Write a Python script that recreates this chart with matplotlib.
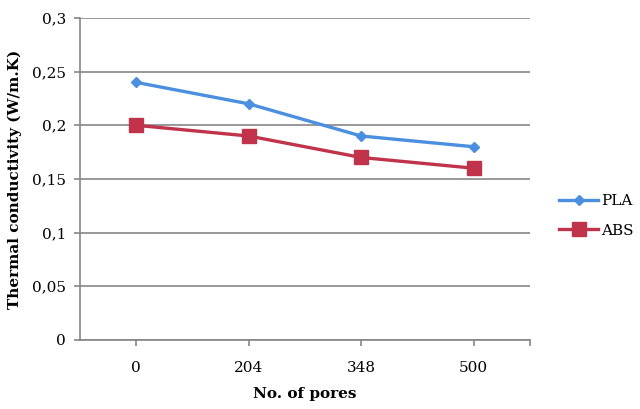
import matplotlib
matplotlib.use("Agg")
import matplotlib.pyplot as plt
from matplotlib.ticker import FuncFormatter

categories = ["0", "204", "348", "500"]
pla = [0.24, 0.22, 0.19, 0.18]
abs_vals = [0.20, 0.19, 0.17, 0.16]
yticks = [0, 0.05, 0.1, 0.15, 0.2, 0.25, 0.3]

plt.rcParams['font.family'] = ['DejaVu Serif']

fig = plt.figure(figsize=(6.4, 4.09), dpi=100)
ax = fig.add_axes([0.125, 0.169, 0.703, 0.787])

x = list(range(len(categories)))
ax.plot(x, pla, color='#4a8fe0', lw=2.4, marker='D', ms=5.5, label='PLA', zorder=3)
ax.plot(x, abs_vals, color='#c0334a', lw=2.4, marker='s', ms=10, label='ABS', zorder=3)

ax.set_xlim(-0.5, 3.5)
ax.set_ylim(0, 0.3)
ax.set_xticks(x + [3.5])
ax.set_xticklabels(categories + [""])
ax.set_yticks(yticks)
ax.yaxis.set_major_formatter(FuncFormatter(lambda v, p: ("%g" % round(v, 2)).replace('.', ',')))
ax.grid(axis='y', color='#868686', lw=1.2)
ax.set_axisbelow(True)

for s in ['top', 'right']:
    ax.spines[s].set_visible(False)
for s in ['left', 'bottom']:
    ax.spines[s].set_color('#868686')
    ax.spines[s].set_linewidth(1.2)
ax.tick_params(axis='both', colors='#868686', labelcolor='black', length=4, width=1.2, labelsize=11)
ax.tick_params(axis='x', pad=11)
ax.tick_params(axis='y', pad=6)

ax.set_xlabel('No. of pores', fontweight='bold', fontsize=11, labelpad=9)
ax.set_ylabel('Thermal conductivity (W/m.K)', fontweight='bold', fontsize=11, labelpad=7)

ax.legend(loc='center left', bbox_to_anchor=(1.035, 0.385), frameon=False,
          handlelength=2.5, handletextpad=0.2, labelspacing=1.0, fontsize=11)

fig.savefig('out.png', dpi=100)
